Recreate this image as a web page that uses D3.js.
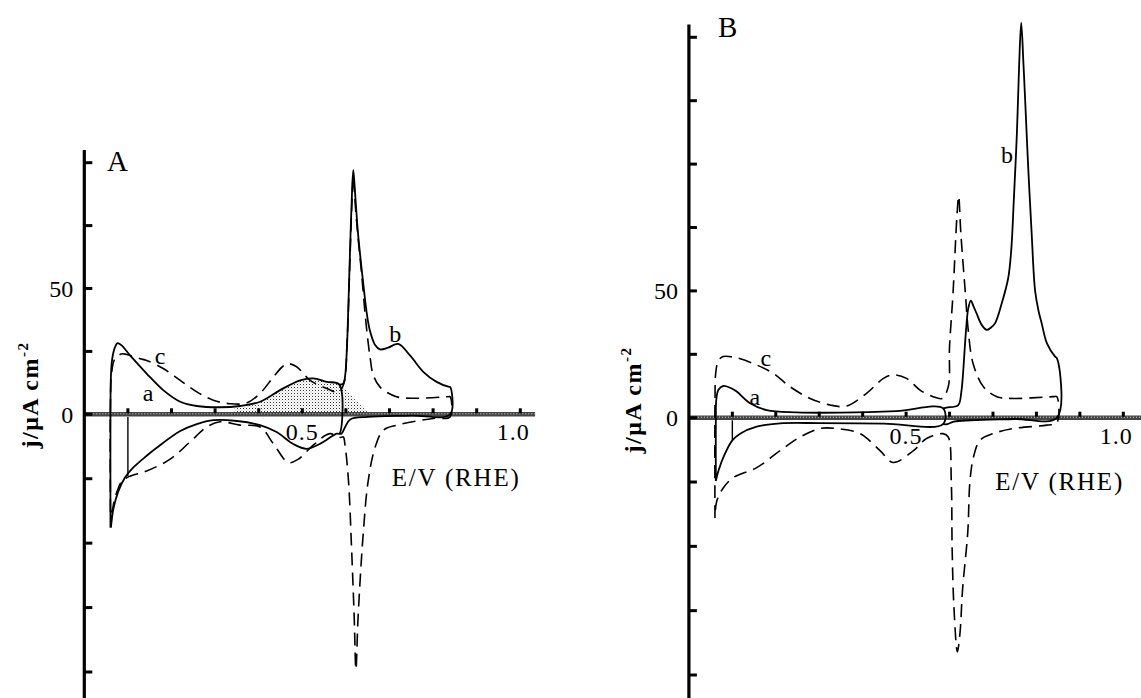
<!DOCTYPE html>
<html>
<head>
<meta charset="utf-8">
<script src="https://cdn.jsdelivr.net/npm/d3@7/dist/d3.min.js"></script>
<style>
  body { margin: 0; background: #fff; }
  svg { display: block; }
  text { font-family: "Liberation Serif", "Times New Roman", serif; fill: #000; }
</style>
</head>
<body>
<svg id="chart" width="1141" height="698"></svg>
<script>
// ---- panel A data : [E / V, j / uA cm-2] ----
// curve a, full loop 0.06 -> 0.585 -> 0.06 V
const curveA_a = [
  [0.060,-44],[0.060,0],[0.061,15],[0.064,22],[0.070,26.5],[0.076,28.3],[0.085,27.5],
  [0.105,23.4],[0.143,16.2],[0.181,9.6],[0.220,5.0],[0.258,3.3],[0.311,2.8],[0.357,3.3],
  [0.403,5.0],[0.449,9.6],[0.495,13.5],[0.525,14.3],[0.556,12.9],[0.585,11.8],
  [0.585,-7.5],[0.579,-7.5],[0.540,-11.5],[0.510,-13.4],[0.479,-11.5],[0.441,-6.9],
  [0.403,-4.2],[0.350,-2.6],[0.296,-2.3],[0.258,-3.8],[0.220,-6.5],[0.166,-13],
  [0.143,-16.1],[0.112,-20.7],[0.093,-24.6],[0.078,-29.9],[0.067,-36.5],[0.061,-44]
];
// curve b, where it leaves curve a (0.585 -> 0.84 V and back)
const curveA_b = [
  [0.585,11.8],[0.594,12.2],[0.598,15],[0.602,25],[0.606,45],[0.610,68],[0.614,88],
  [0.617,97],[0.621,88],[0.628,71.5],[0.640,51.7],[0.648,40],[0.655,33.3],[0.667,27.5],
  [0.678,25.8],[0.697,26.5],[0.720,28],[0.747,23.4],[0.778,16.8],[0.808,12.9],
  [0.837,10.9],[0.839,10.9],[0.839,0],[0.750,-0.5],[0.650,-1],[0.610,-2],[0.598,-5],
  [0.590,-7.5],[0.585,-7.5]
];
// curve c (dashed), full loop 0.06 -> 0.84 -> 0.06 V
const curveA_c = [
  [0.060,-38],[0.060,5],[0.063,17],[0.070,22],[0.085,24],[0.097,23.8],[0.128,22.1],
  [0.143,21.4],[0.181,18.2],[0.220,13.5],[0.258,8.9],[0.296,5.6],[0.334,4.2],[0.372,4.5],
  [0.403,8.3],[0.434,14.9],[0.455,19],[0.468,20.1],[0.487,18.9],[0.518,13.5],[0.556,10.3],
  [0.583,8.8],[0.595,12],[0.603,30],[0.609,60],[0.614,85],[0.617,95],[0.622,82],
  [0.628,70],[0.636,56],[0.644,40],[0.650,30],[0.656,22],[0.662,16],[0.678,10.9],
  [0.716,7],[0.770,6.4],[0.835,7],[0.839,7],[0.839,-1],[0.800,-1.6],[0.717,-4.2],
  [0.686,-6.2],[0.667,-12.8],[0.651,-26],[0.640,-45.7],[0.628,-78.5],[0.623,-99],
  [0.619,-78.5],[0.613,-52],[0.606,-26],[0.598,-12],[0.594,-8.8],[0.587,-9],[0.563,-7.5],
  [0.525,-12],[0.490,-17.5],[0.468,-18.7],[0.434,-11.5],[0.403,-4.9],[0.357,-4.2],
  [0.311,-2.9],[0.281,-4.9],[0.242,-10.8],[0.197,-17.4],[0.143,-22],[0.105,-24],
  [0.086,-26],[0.075,-30],[0.068,-34],[0.063,-37.8],[0.060,-38]
];
const markA = [[0.1,-1],[0.1,-24]];
// stippled charge area under curve a
const shadeA = [
  [0.345,3.2],[0.357,3.3],[0.403,5.0],[0.449,9.6],[0.495,13.5],[0.525,14.3],[0.556,12.9],
  [0.585,11.8],[0.620,6],[0.655,0]
];

// ---- panel B data ----
const curveB_a = [
  [0.062,-24.6],[0.062,0],[0.063,7],[0.068,11],[0.079,12.5],[0.095,11.8],[0.110,10.3],
  [0.141,5.7],[0.179,3.0],[0.248,2.1],[0.350,2.0],[0.478,2.6],[0.585,3.7],[0.585,-2.5],
  [0.450,-2.3],[0.300,-2.1],[0.210,-2.2],[0.156,-3.5],[0.118,-6.2],[0.100,-8.8],
  [0.083,-14],[0.068,-20.6],[0.062,-24.6]
];
const curveB_b = [
  [0.585,3.7],[0.593,4],[0.620,5],[0.627,10],[0.630,14.9],[0.638,34.6],[0.643,43],
  [0.649,46.2],[0.655,44],[0.662,41.2],[0.674,36.6],[0.686,34.6],[0.695,35.5],[0.705,37.3],
  [0.720,45],[0.735,55],[0.742,66],[0.748,86],[0.755,112],[0.760,138],[0.765,155.8],
  [0.770,140],[0.774,125.5],[0.781,99],[0.789,72.8],[0.797,50],[0.805,42],[0.812,37.3],
  [0.824,29.4],[0.843,24.1],[0.847,23.5],[0.847,0],[0.750,-0.5],[0.650,-1],[0.610,-1.5],
  [0.595,-2.5],[0.585,-2.5]
];
const curveB_c = [
  [0.060,-39],[0.060,5],[0.062,18],[0.068,22.5],[0.079,24.1],[0.110,23.6],[0.156,20.8],
  [0.194,17.5],[0.233,12.2],[0.279,7.6],[0.325,5.0],[0.363,4.6],[0.409,9.6],[0.448,15.5],
  [0.470,16.9],[0.501,15.5],[0.532,10.9],[0.562,8.3],[0.583,7.6],[0.597,12.2],[0.600,28],
  [0.608,49],[0.617,79.4],[0.621,87.3],[0.626,72.8],[0.637,47.8],[0.643,34.6],[0.654,21.5],
  [0.678,12.2],[0.709,8.3],[0.747,7.6],[0.839,8.3],[0.847,8.3],[0.847,-2],[0.824,-2.9],
  [0.747,-4.2],[0.700,-6.2],[0.670,-8.8],[0.655,-15.4],[0.647,-24.6],[0.642,-44.4],
  [0.630,-66.7],[0.624,-83.8],[0.618,-91],[0.610,-73.3],[0.606,-50.9],[0.604,-24.6],
  [0.597,-7.5],[0.585,-6.2],[0.547,-8.1],[0.517,-12.8],[0.470,-17.4],[0.440,-12.8],
  [0.394,-6.2],[0.340,-4.2],[0.302,-4.2],[0.256,-7.5],[0.210,-12.8],[0.156,-19.4],
  [0.102,-23.3],[0.079,-27.3],[0.064,-32.5],[0.060,-39]
];
const markB = [[0.1,-1],[0.1,-8.8]];

// ---- axes / labels ----
const xTicks = [0.1,0.2,0.3,0.4,0.5,0.6,0.7,0.8,0.9,1.0];
const xTickLabels = [0.5, 1.0];
const yTicksA = [-100,-75,-50,-25,0,25,50,75,100];
const yTicksB = [-100,-75,-50,-25,0,25,50,75,100,125,150];
const yTickLabels = [0, 50];
const curveLabelsA = [["a",0.146,8.5],["c",0.174,23.4],["b",0.713,32]];
const curveLabelsB = [["a",0.152,8.3],["c",0.177,23.6],["b",0.732,103.7]];

const svg = d3.select('#chart');

// stipple pattern for the charge area
const defs = svg.append('defs');
const pat = defs.append('pattern').attr('id','stip')
  .attr('width',3).attr('height',3).attr('patternUnits','userSpaceOnUse');
pat.append('rect').attr('width',1).attr('height',1).attr('fill','#333');
pat.append('rect').attr('x',1.5).attr('y',1.5).attr('width',1).attr('height',1).attr('fill','#aaa');

function drawPanel(p) {
  const x = d3.scaleLinear().domain([0,1]).range(p.xRange);
  const y = d3.scaleLinear().domain([-100,0,p.yMax]).range(p.yRange);
  const g = svg.append('g');
  const x0 = x(0), y0 = y(0);

  const line = d3.line()
    .x(d => x(d[0])).y(d => y(d[1]))
    .curve(d3.curveCatmullRom.alpha(0.5));

  if (p.shade) {
    g.append('path').datum(p.shade)
      .attr('fill','url(#stip)')
      .attr('d', d3.area().x(d => x(d[0])).y0(y0).y1(d => y(d[1]))
        .curve(d3.curveCatmullRom.alpha(0.5)));
  }

  // x axis: stippled band along j = 0
  g.append('line').attr('x1',x0).attr('x2',x(p.xEnd)).attr('y1',y0).attr('y2',y0)
    .attr('stroke','#444').attr('stroke-width',4.5);
  g.append('line').attr('x1',x0).attr('x2',x(p.xEnd)).attr('y1',y0-0.5).attr('y2',y0-0.5)
    .attr('stroke','#e4e4e4').attr('stroke-width',1).attr('stroke-dasharray','1,2');
  g.selectAll('.xt').data(xTicks).enter().append('rect')
    .attr('x', d => x(d) - 1.5).attr('y', y0 - 6).attr('width',3).attr('height',5)
    .attr('fill','#000');

  // curves
  g.selectAll('.solid').data(p.solid).enter().append('path')
    .attr('d', line).attr('fill','none').attr('stroke','#000')
    .attr('stroke-width',1.8).attr('stroke-linejoin','round');
  g.append('path').datum(p.mark)
    .attr('d', d3.line().x(d => x(d[0])).y(d => y(d[1])))
    .attr('fill','none').attr('stroke','#000').attr('stroke-width',1.4);
  g.append('path').datum(p.dashed)
    .attr('d', line).attr('fill','none').attr('stroke','#000')
    .attr('stroke-width',1.6).attr('stroke-dasharray','13,7');

  // y axis
  g.append('line').attr('x1',x0).attr('x2',x0).attr('y1',y(p.yMax + 5)).attr('y2',698)
    .attr('stroke','#000').attr('stroke-width',3.2);
  g.selectAll('.yt').data(p.yTicks).enter().append('line')
    .attr('x1',x0).attr('x2',x0+8).attr('y1',d => y(d)).attr('y2',d => y(d))
    .attr('stroke','#000').attr('stroke-width',3);
  g.selectAll('.yl').data(yTickLabels).enter().append('text')
    .attr('x', x0 - 11).attr('y', d => y(d)).attr('dy','0.35em')
    .attr('text-anchor','end').attr('font-size',24).text(d => d);

  g.selectAll('.xl').data(xTickLabels).enter().append('text')
    .attr('x', d => x(d) + (d === 1 ? -7 : 0)).attr('y', y0 + 26)
    .attr('text-anchor','middle').attr('font-size',24).attr('letter-spacing',1)
    .text(d => d.toFixed(1));

  g.append('text').attr('x', x(0.705)).attr('y', y0 + 72)
    .attr('font-size',25).attr('letter-spacing',1.8).text('E/V (RHE)');

  const yl = g.append('text')
    .attr('transform', `translate(${p.yLabelX},${p.yLabelY}) rotate(-90)`)
    .attr('text-anchor','middle').attr('font-size',24).attr('font-weight','bold')
    .attr('letter-spacing',1.5);
  yl.append('tspan').text('j/\u03bcA cm');
  yl.append('tspan').attr('font-size',15).attr('dy',-10).text('-2');

  g.append('text').attr('x', p.letterPos[0]).attr('y', p.letterPos[1])
    .attr('font-size',29).text(p.letter);

  g.selectAll('.cl').data(p.curveLabels).enter().append('text')
    .attr('x', d => x(d[1])).attr('y', d => y(d[2])).attr('dy','0.35em')
    .attr('text-anchor','middle').attr('font-size',24).text(d => d[0]);
}

drawPanel({
  letter: 'A', letterPos: [107, 171],
  xRange: [84.3, 520.3], xEnd: 1.034,
  yMax: 100, yRange: [672, 414.3, 162.7],
  yTicks: yTicksA,
  solid: [curveA_a, curveA_b], dashed: curveA_c, mark: markA, shade: shadeA,
  curveLabels: curveLabelsA, yLabelX: 38, yLabelY: 395
});

drawPanel({
  letter: 'B', letterPos: [718, 37],
  xRange: [688.9, 1123.3], xEnd: 1.05,
  yMax: 150, yRange: [675, 417.7, 37.3],
  yTicks: yTicksB,
  solid: [curveB_a, curveB_b], dashed: curveB_c, mark: markB, shade: null,
  curveLabels: curveLabelsB, yLabelX: 641, yLabelY: 400
});
</script>
</body>
</html>
